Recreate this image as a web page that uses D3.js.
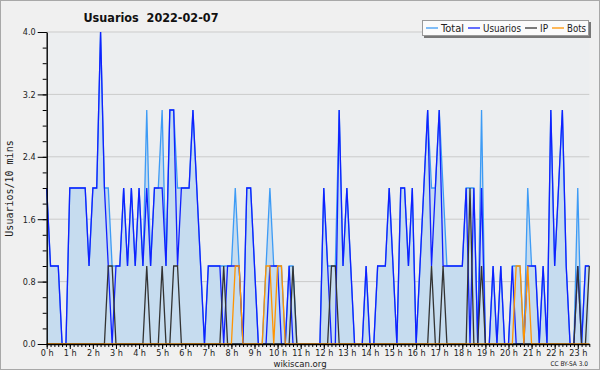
<!DOCTYPE html>
<html>
<head>
<meta charset="utf-8">
<script src="https://cdn.jsdelivr.net/npm/d3@7"></script>
<style>
  body { margin: 0; background: #f0f0f0; }
  svg { display: block; }
  text { font-family: "DejaVu Sans Condensed", "DejaVu Sans", sans-serif; font-stretch: condensed; fill: #222; }
</style>
</head>
<body>
<script>
// 10-minute slots, 00:00 .. 23:30
var total = [2,1,1,1,0,0,2,2,2,2, 2,1,2,2,4,2,2,1,1,1, 2,1,2,1,2,1,3,1,2,2,
  3,1,3,3,2,2,2,2,3,2, 1,0,1,1,1,1,1,1,1,2, 1,0,2,2,1,0,0,1,2,1,
  1,1,0,1,1,0,0,0,0,0, 0,0,2,1,1,1,3,1,2,1, 0,0,0,1,0,0,1,1,1,2,
  1,0,2,2,1,2,0,1,2,3, 2,2,3,2,1,1,1,1,1,2, 2,2,0,3,0,0,1,0,1,0,
  0,1,1,1,0,2,1,1,0,1, 0,3,1,2,3,1,0,0,2,0, 1,1];
var usuarios = [2,1,1,1,0,0,2,2,2,2, 2,1,2,2,4,2,1,0,1,1, 2,1,2,1,2,1,2,1,2,2,
  2,1,3,3,1,2,2,2,3,2, 1,0,1,1,1,1,0,1,1,1, 1,0,2,2,1,0,0,0,1,1,
  1,0,0,1,0,0,0,0,0,0, 0,0,2,1,0,0,3,1,2,1, 0,0,0,1,0,0,1,1,1,2,
  1,0,2,2,1,2,0,1,2,3, 1,2,3,1,1,1,1,1,1,2, 0,2,0,2,0,0,1,0,1,0,
  0,1,0,0,0,1,1,1,0,1, 0,3,1,2,3,1,0,0,1,0, 1,1];
var ip = [0,0,0,0,0,0,0,0,0,0, 0,0,0,0,0,0,1,1,0,0, 0,0,0,0,0,0,1,0,0,0,
  1,0,0,1,1,0,0,0,0,0, 0,0,0,0,0,0,1,0,0,0, 0,0,0,0,0,0,0,0,0,0,
  0,0,0,0,1,0,0,0,0,0, 0,0,0,0,1,1,0,0,0,0, 0,0,0,0,0,0,0,0,0,0,
  0,0,0,0,0,0,0,0,0,0, 1,0,0,1,0,0,0,0,0,0, 2,0,0,1,0,0,0,0,0,0,
  0,0,0,0,0,0,0,0,0,0, 0,0,0,0,0,0,0,0,1,0, 0,1];
var bots = [0,0,0,0,0,0,0,0,0,0, 0,0,0,0,0,0,0,0,0,0, 0,0,0,0,0,0,0,0,0,0,
  0,0,0,0,0,0,0,0,0,0, 0,0,0,0,0,0,0,0,0,1, 1,0,0,0,0,0,0,1,1,0,
  1,1,0,0,0,0,0,0,0,0, 0,0,0,0,0,0,0,0,0,0, 0,0,0,0,0,0,0,0,0,0,
  0,0,0,0,0,0,0,0,0,0, 0,0,0,0,0,0,0,0,0,0, 0,0,0,0,0,0,0,0,0,0,
  0,0,1,1,0,1,0,0,0,0, 0,0,0,0,0,0,0,0,0,0, 0,0];
var hourLabels = d3.range(24).map(function(h){ return h + " h"; });
var yTicks = [0, 0.8, 1.6, 2.4, 3.2, 4.0];
var seriesNames = ["Total", "Usuarios", "IP", "Bots"];

var width = 600, height = 370;
var plotLeft = 46.7, plotRight = 589.3, plotTop = 32, plotBottom = 344;

var svg = d3.select("body").append("svg")
  .attr("width", width).attr("height", height);

svg.append("rect").attr("x", 0.5).attr("y", 0.5)
  .attr("width", width - 1).attr("height", height - 1)
  .attr("fill", "#f0f0f0").attr("stroke", "#a8a8a8");

var x = d3.scaleLinear().domain([0, total.length - 1]).range([plotLeft, plotRight]);
var y = d3.scaleLinear().domain([0, 4]).range([plotBottom, plotTop]);

// plot background
svg.append("rect").attr("x", plotLeft).attr("y", plotTop)
  .attr("width", plotRight - plotLeft).attr("height", plotBottom - plotTop)
  .attr("fill", "#eceef0");

// grid
svg.append("g").selectAll("line").data(yTicks.slice(1)).enter().append("line")
  .attr("x1", plotLeft).attr("x2", plotRight)
  .attr("y1", function(d){ return y(d); }).attr("y2", function(d){ return y(d); })
  .attr("stroke", "#cbcbcb").attr("stroke-width", 1);

// area under total
var area = d3.area()
  .x(function(d, i){ return x(i); })
  .y0(y(0))
  .y1(function(d){ return y(d); });
svg.append("path").datum(total).attr("d", area).attr("fill", "#c6dcef");

var line = d3.line()
  .x(function(d, i){ return x(i); })
  .y(function(d){ return y(d); });

var colors = {Total: "#3d9bf5", Usuarios: "#1020ff", IP: "#333333", Bots: "#ff9400"};
var series = [["Total", total], ["Usuarios", usuarios], ["IP", ip], ["Bots", bots]];
svg.append("g").selectAll("path").data(series).enter().append("path")
  .attr("d", function(d){ return line(d[1]); })
  .attr("fill", "none")
  .attr("stroke", function(d){ return colors[d[0]]; })
  .attr("stroke-width", 1.3);

// y axis
var yMinor = svg.append("g").attr("transform", "translate(" + plotLeft + ",0)")
  .call(d3.axisLeft(y).tickValues(d3.range(0, 4.01, 0.2)).tickSize(4).tickFormat(""));
yMinor.select(".domain").remove();
var yAxis = svg.append("g").attr("transform", "translate(" + plotLeft + ",0)")
  .call(d3.axisLeft(y).tickValues(yTicks).tickSize(9).tickSizeOuter(0)
    .tickFormat(d3.format(".1f")));
yAxis.selectAll("text").attr("font-size", 9).attr("dx", 1);

// x axis
var xMinor = svg.append("g").attr("transform", "translate(0," + plotBottom + ")")
  .call(d3.axisBottom(x).tickValues(d3.range(0, total.length)).tickSize(3).tickFormat(""));
xMinor.select(".domain").remove();
var xAxis = svg.append("g").attr("transform", "translate(0," + plotBottom + ")")
  .call(d3.axisBottom(x).tickValues(d3.range(0, 24).map(function(h){ return h * 6; }))
    .tickSize(5).tickSizeOuter(0)
    .tickFormat(function(d){ return hourLabels[d / 6]; }));
xAxis.selectAll("text").attr("font-size", 9).attr("dy", "0.45em");
svg.selectAll(".domain").attr("stroke", "#000").attr("stroke-width", 1.4);
svg.selectAll(".tick line").attr("stroke", "#000");

// titles
svg.append("text").attr("x", 151).attr("y", 22).attr("text-anchor", "middle")
  .attr("font-size", 12.5).attr("font-weight", "bold").style("fill", "#111")
  .attr("xml:space", "preserve").text("Usuarios  2022-02-07");
svg.append("text").attr("transform", "translate(13,188.5) rotate(-90)")
  .attr("text-anchor", "middle").attr("font-size", 10)
  .style("font-family", "'DejaVu Sans Mono', monospace").style("font-stretch", "normal")
  .text("Usuarios/10 mins");
svg.append("text").attr("x", 300).attr("y", 367).attr("text-anchor", "middle")
  .attr("font-size", 9.5).text("wikiscan.org");
svg.append("text").attr("x", 588).attr("y", 366).attr("text-anchor", "end")
  .attr("font-size", 6.5).text("CC BY-SA 3.0");

// legend
var legendWidths = [23, 38, 8, 19];
var lg = svg.append("g");
lg.append("rect").attr("x", 424).attr("y", 22).attr("width", 167).attr("height", 16).attr("fill", "#777");
lg.append("rect").attr("x", 422.5).attr("y", 20.5).attr("width", 166).attr("height", 15)
  .attr("fill", "#fbfbfb").attr("stroke", "#999");
var lx = 426;
seriesNames.forEach(function(name, i){
  lg.append("line").attr("x1", lx).attr("x2", lx + 12).attr("y1", 28).attr("y2", 28)
    .attr("stroke", colors[name]).attr("stroke-width", 1.3);
  lg.append("text").attr("x", lx + 15).attr("y", 32).attr("font-size", 10.5)
    .attr("textLength", legendWidths[i]).attr("lengthAdjust", "spacingAndGlyphs")
    .text(name);
  lx += 15 + legendWidths[i] + 4;
});
</script>
</body>
</html>
